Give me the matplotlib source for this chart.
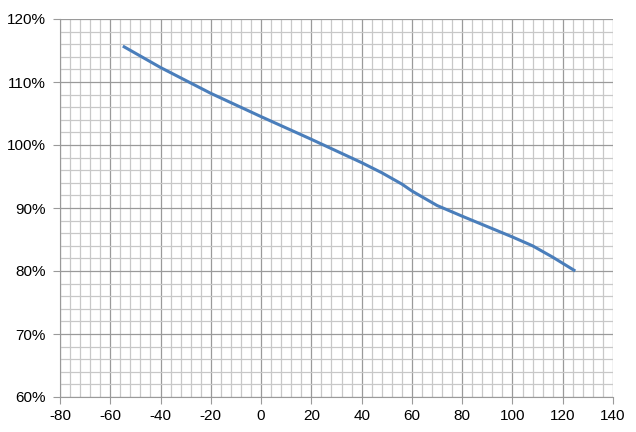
import numpy as np
import matplotlib
matplotlib.use('Agg')
import matplotlib.pyplot as plt
from matplotlib.ticker import MultipleLocator, FuncFormatter

temp = [-55, -40, -20, 0, 20, 40, 48, 56, 60, 70, 80, 100, 108, 116, 125]
ratio = [115.7, 112.3, 108.2, 104.5, 100.9, 97.2, 95.6, 93.8, 92.7, 90.4, 88.7,
         85.4, 84.0, 82.2, 80.0]

plt.rcParams['font.family'] = ['Liberation Sans', 'DejaVu Sans']
plt.rcParams['axes.unicode_minus'] = False

fig = plt.figure(figsize=(6.36, 4.32), dpi=100)
ax = fig.add_axes([60 / 636, 35 / 432, 553 / 636, 378 / 432])

ax.plot(temp, ratio, color='#4a7ebb', lw=2.2, solid_joinstyle='round',
        solid_capstyle='butt', zorder=3)

ax.set_xlim(-80, 140)
ax.set_ylim(60, 120)
ax.xaxis.set_major_locator(MultipleLocator(20))
ax.xaxis.set_minor_locator(MultipleLocator(4))
ax.yaxis.set_major_locator(MultipleLocator(10))
ax.yaxis.set_minor_locator(MultipleLocator(2))
ax.yaxis.set_major_formatter(FuncFormatter(lambda v, p: f'{v:.0f}%'))

ax.grid(which='major', color='#9a9a9a', lw=0.9)
ax.grid(which='minor', color='#c8c8c8', lw=0.9)
ax.set_axisbelow(True)

for s in ['top', 'right']:
    ax.spines[s].set_visible(False)
ax.spines['left'].set_color('#9a9a9a')
ax.spines['bottom'].set_color('#9a9a9a')

ax.tick_params(which='major', length=5, color='#9a9a9a', labelsize=11)
ax.tick_params(which='minor', length=0)
ax.tick_params(axis='y', pad=5)
ax.tick_params(axis='x', pad=4)

fig.savefig('out.png', dpi=100)
